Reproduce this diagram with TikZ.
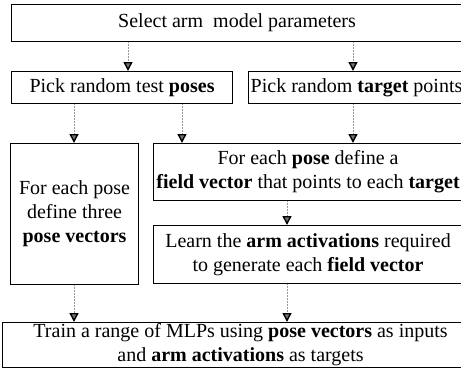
\documentclass[tikz,border=0pt]{standalone}
\usepackage{fontspec}
\setmainfont{Liberation Serif}
\usetikzlibrary{arrows.meta}

\tikzset{
 stage/.style={draw, line width=1.1pt, align=center, inner sep=0pt, anchor=north west,
   font=\fontsize{20}{24}\selectfont},
 flow/.style={gray!80, densely dotted, line width=0.5pt,
   -{Triangle[length=9pt, width=9pt, black, fill=black!55, line width=1.4pt]}}
}

\begin{document}
\begin{tikzpicture}[x=1pt, y=-1pt]
\useasboundingbox (0,0) rectangle (461,370);
% stages
\node[stage, minimum width=451pt, minimum height=37pt] (select) at (11,4) {Select arm\ \ model parameters};
\node[stage, minimum width=221pt, minimum height=32pt] (poses) at (11,71) {Pick random test \textbf{poses}};
\node[stage, minimum width=216pt, minimum height=32pt] (targets) at (248,71) {Pick random \textbf{target} points};
\node[stage, minimum width=128pt, minimum height=141pt] (posevec) at (10,143) {For each pose\\define three\\\textbf{pose vectors}};
\node[stage, minimum width=309pt, minimum height=57pt] (fieldvec) at (153,143) {For each \textbf{pose} define a\\\textbf{field vector} that points to each \textbf{target}};
\node[stage, minimum width=309pt, minimum height=58pt] (learn) at (153,225) {Learn the \textbf{arm activations} required\\to generate each \textbf{field vector}};
\node[stage, minimum width=476pt, minimum height=45pt] (train) at (2,322) {Train a range of MLPs using \textbf{pose vectors} as inputs\\and \textbf{arm activations} as targets};
% arrow columns
\coordinate (c1) at (128,0);
\coordinate (c2) at (353,0);
\coordinate (c3) at (74,0);
\coordinate (c4) at (182,0);
\coordinate (c5) at (287,0);
\draw[flow] (select.south -| c1) -- (poses.north -| c1);
\draw[flow] (select.south -| c2) -- (targets.north -| c2);
\draw[flow] (poses.south -| c3) -- (posevec.north -| c3);
\draw[flow] (poses.south -| c4) -- (fieldvec.north -| c4);
\draw[flow] (targets.south -| c2) -- (fieldvec.north -| c2);
\draw[flow] (fieldvec.south -| c5) -- (learn.north -| c5);
\draw[flow] (posevec.south -| c3) -- (train.north -| c3);
\draw[flow] (learn.south -| c5) -- (train.north -| c5);
\end{tikzpicture}
\end{document}
